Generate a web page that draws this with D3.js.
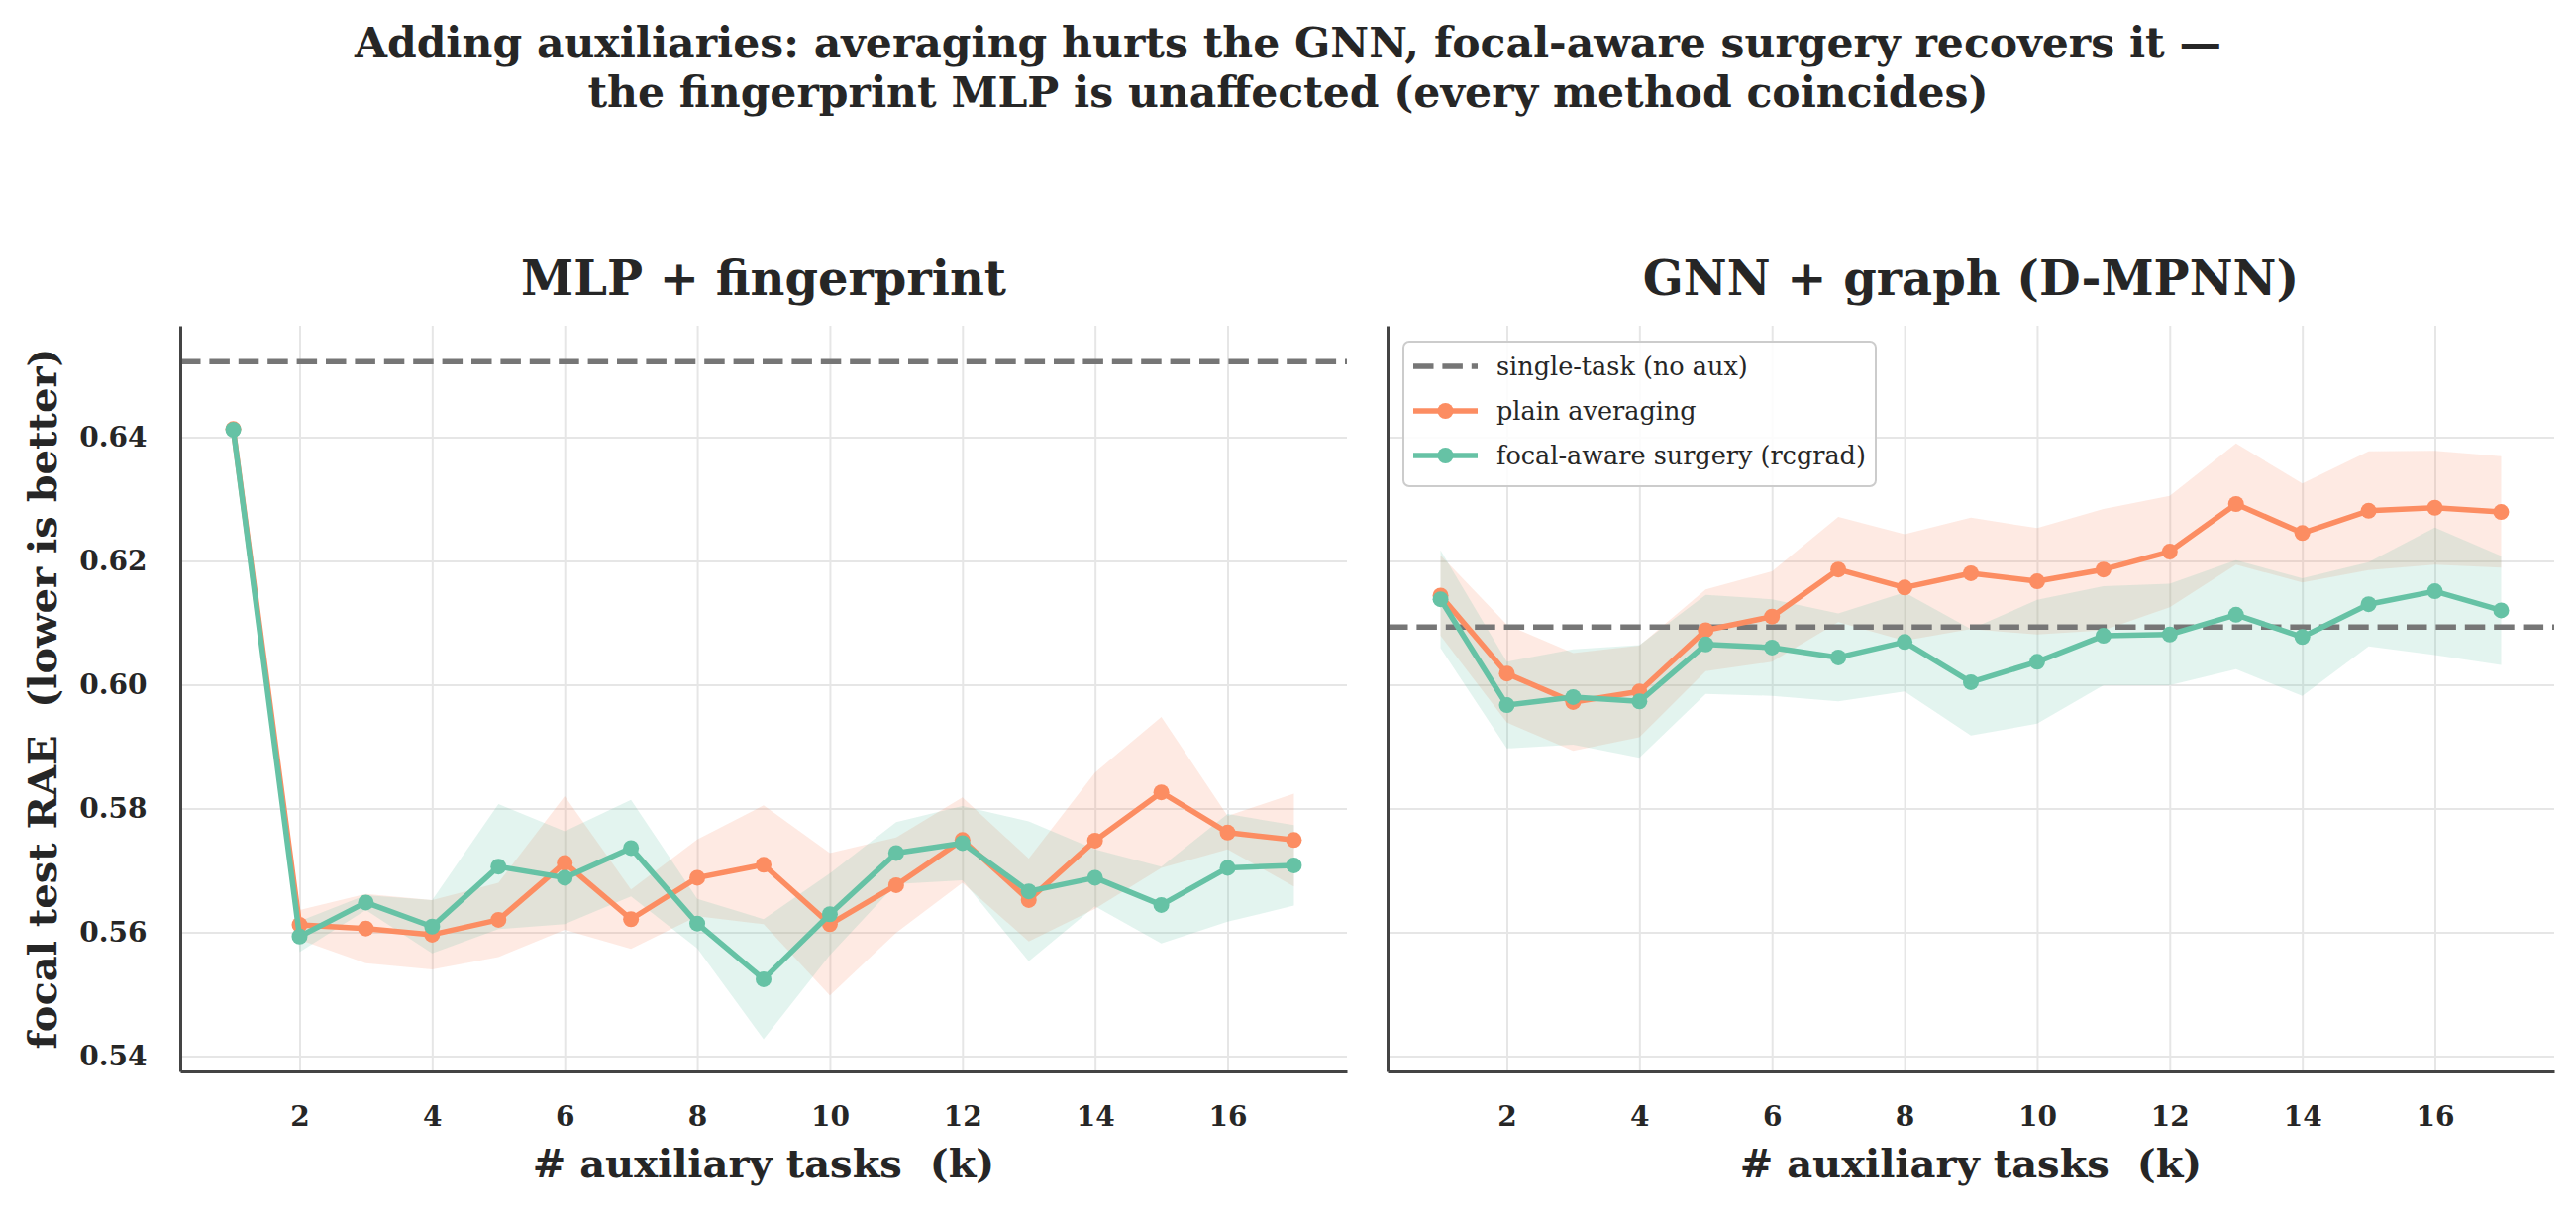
<!DOCTYPE html>
<html>
<head>
<meta charset="utf-8">
<script src="https://cdn.jsdelivr.net/npm/d3@7"></script>
<style>
  html, body { margin: 0; padding: 0; background: #ffffff; }
  text { font-family: 'DejaVu Serif', serif; fill: #262626; white-space: pre; }
</style>
</head>
<body>
<div id="chart"></div>
<script>
// k = number of auxiliary tasks
const kValues = [1, 2, 3, 4, 5, 6, 7, 8, 9, 10, 11, 12, 13, 14, 15, 16, 17];
const xTicks = [2, 4, 6, 8, 10, 12, 14, 16];
const yTicks = [0.54, 0.56, 0.58, 0.60, 0.62, 0.64];

// MLP + fingerprint
const mlpSingleTask = 0.6522;
const mlpPlain = [0.6413, 0.5612, 0.5606, 0.5596, 0.5620, 0.5712, 0.5621, 0.5688, 0.5709,
  0.5613, 0.5676, 0.5749, 0.5652, 0.5748, 0.5826, 0.5761, 0.5749];
const mlpPlainSd = [0.0009, 0.0024, 0.0056, 0.0056, 0.0060, 0.0108, 0.0048, 0.0062, 0.0096,
  0.0115, 0.0077, 0.0069, 0.0067, 0.0110, 0.0122, 0.0027, 0.0075];
const mlpSurgery = [0.6412, 0.5593, 0.5648, 0.5609, 0.5706, 0.5688, 0.5736, 0.5614, 0.5524,
  0.5629, 0.5728, 0.5744, 0.5666, 0.5688, 0.5644, 0.5704, 0.5708];
const mlpSurgerySd = [0.0006, 0.0025, 0.0012, 0.0043, 0.0101, 0.0075, 0.0078, 0.0040, 0.0097,
  0.0066, 0.0050, 0.0060, 0.0113, 0.0046, 0.0062, 0.0087, 0.0065];

// GNN + graph (D-MPNN)
const gnnSingleTask = 0.6093;
const gnnPlain = [0.6144, 0.6018, 0.5972, 0.5989, 0.6088, 0.6110, 0.6186, 0.6157, 0.6180,
  0.6167, 0.6186, 0.6215, 0.6292, 0.6245, 0.6281, 0.6286, 0.6279];
const gnnPlainSd = [0.0065, 0.0079, 0.0079, 0.0074, 0.0066, 0.0073, 0.0085, 0.0086, 0.0090,
  0.0086, 0.0098, 0.0090, 0.0098, 0.0080, 0.0096, 0.0092, 0.0090];
const gnnSurgery = [0.6138, 0.5967, 0.5980, 0.5973, 0.6065, 0.6060, 0.6044, 0.6069, 0.6004,
  0.6037, 0.6079, 0.6081, 0.6113, 0.6077, 0.6130, 0.6151, 0.6120];
const gnnSurgerySd = [0.0079, 0.0070, 0.0077, 0.0091, 0.0080, 0.0078, 0.0071, 0.0080, 0.0086,
  0.0100, 0.0080, 0.0082, 0.0088, 0.0095, 0.0068, 0.0103, 0.0088];

const seriesNames = ['single-task (no aux)', 'plain averaging', 'focal-aware surgery (rcgrad)'];
const colors = { plain: '#fc8d62', surgery: '#66c2a5', single: '#767676' };

const width = 2601, height = 1226;
const plotTop = 329, plotBottom = 1082;

const panels = [
  { title: 'MLP + fingerprint', left: 182, right: 1360, single: mlpSingleTask,
    plain: mlpPlain, plainSd: mlpPlainSd, surgery: mlpSurgery, surgerySd: mlpSurgerySd,
    yLabels: true, legend: false },
  { title: 'GNN + graph (D-MPNN)', left: 1401, right: 2579, single: gnnSingleTask,
    plain: gnnPlain, plainSd: gnnPlainSd, surgery: gnnSurgery, surgerySd: gnnSurgerySd,
    yLabels: false, legend: true }
];

const svg = d3.select('#chart')
  .append('svg')
  .attr('width', width)
  .attr('height', height)
  .style('display', 'block');

// suptitle
svg.append('text')
  .attr('x', width / 2).attr('y', 58)
  .attr('text-anchor', 'middle')
  .style('font-size', '42.5px').style('font-weight', 'bold')
  .text('Adding auxiliaries: averaging hurts the GNN, focal-aware surgery recovers it —');
svg.append('text')
  .attr('x', width / 2).attr('y', 108)
  .attr('text-anchor', 'middle')
  .style('font-size', '42.5px').style('font-weight', 'bold')
  .text('the fingerprint MLP is unaffected (every method coincides)');

const y = d3.scaleLinear().domain([0.5375, 0.658]).range([plotBottom, plotTop]);

panels.forEach((p) => {
  const x = d3.scaleLinear().domain([0.2, 17.8]).range([p.left, p.right]);
  const g = svg.append('g');

  // grid
  g.append('g')
    .attr('transform', `translate(0,${plotBottom})`)
    .call(d3.axisBottom(x).tickValues(xTicks).tickSize(-(plotBottom - plotTop)).tickFormat(''))
    .call((a) => a.select('.domain').remove())
    .selectAll('line').attr('stroke', '#e6e6e6').attr('stroke-width', 2);
  g.append('g')
    .attr('transform', `translate(${p.left},0)`)
    .call(d3.axisLeft(y).tickValues(yTicks).tickSize(-(p.right - p.left)).tickFormat(''))
    .call((a) => a.select('.domain').remove())
    .selectAll('line').attr('stroke', '#e6e6e6').attr('stroke-width', 2);

  // bands (mean ± sd)
  const band = (mean, sd) => d3.area()
    .x((d, i) => x(kValues[i]))
    .y0((d, i) => y(mean[i] - sd[i]))
    .y1((d, i) => y(mean[i] + sd[i]))(mean);
  g.append('path').attr('d', band(p.plain, p.plainSd))
    .attr('fill', colors.plain).attr('fill-opacity', 0.18);
  g.append('path').attr('d', band(p.surgery, p.surgerySd))
    .attr('fill', colors.surgery).attr('fill-opacity', 0.18);

  // single-task baseline
  g.append('line')
    .attr('x1', p.left).attr('x2', p.right)
    .attr('y1', y(p.single)).attr('y2', y(p.single))
    .attr('stroke', colors.single).attr('stroke-width', 5.5)
    .attr('stroke-dasharray', '20.5 8.9');

  // lines + markers
  const line = d3.line().x((d, i) => x(kValues[i])).y((d) => y(d));
  [['plain', p.plain], ['surgery', p.surgery]].forEach(([key, vals]) => {
    g.append('path').attr('d', line(vals))
      .attr('fill', 'none').attr('stroke', colors[key])
      .attr('stroke-width', 5.5).attr('stroke-linejoin', 'round');
    g.append('g').selectAll('circle')
      .data(vals)
      .join('circle')
      .attr('cx', (d, i) => x(kValues[i]))
      .attr('cy', (d) => y(d))
      .attr('r', 8)
      .attr('fill', colors[key]);
  });

  // spines + tick labels
  g.append('g')
    .attr('transform', `translate(0,${plotBottom})`)
    .call(d3.axisBottom(x).tickValues(xTicks).tickSize(0).tickSizeOuter(0).tickPadding(35))
    .call((a) => a.select('.domain').attr('stroke', '#444').attr('stroke-width', 3))
    .selectAll('text')
    .style('font-family', "'DejaVu Serif', serif")
    .style('font-size', '28px').style('font-weight', 'bold').attr('fill', '#262626');
  g.append('g')
    .attr('transform', `translate(${p.left},0)`)
    .call(d3.axisLeft(y).tickValues(yTicks).tickSize(0).tickSizeOuter(0).tickPadding(33.5)
      .tickFormat(p.yLabels ? d3.format('.2f') : ''))
    .call((a) => a.select('.domain').attr('stroke', '#444').attr('stroke-width', 3))
    .selectAll('text')
    .style('font-family', "'DejaVu Serif', serif")
    .style('font-size', '28px').style('font-weight', 'bold').attr('fill', '#262626');

  // titles
  g.append('text')
    .attr('x', (p.left + p.right) / 2).attr('y', 298)
    .attr('text-anchor', 'middle')
    .style('font-size', '48px').style('font-weight', 'bold')
    .text(p.title);
  g.append('text')
    .attr('x', (p.left + p.right) / 2).attr('y', 1189)
    .attr('text-anchor', 'middle')
    .style('font-size', '40px').style('font-weight', 'bold')
    .text('# auxiliary tasks  (k)');

  if (p.yLabels) {
    g.append('text')
      .attr('transform', `translate(57,${(plotTop + plotBottom) / 2}) rotate(-90)`)
      .attr('text-anchor', 'middle')
      .style('font-size', '40px').style('font-weight', 'bold')
      .text('focal test RAE  (lower is better)');
  }

  if (p.legend) {
    const lg = g.append('g').attr('transform', 'translate(1417,345)');
    lg.append('rect')
      .attr('width', 477).attr('height', 146).attr('rx', 6)
      .attr('fill', '#ffffff').attr('fill-opacity', 0.85)
      .attr('stroke', '#cccccc').attr('stroke-width', 2);
    const entries = [
      { name: seriesNames[0], color: colors.single, dash: '20.5 8.9', marker: false },
      { name: seriesNames[1], color: colors.plain, dash: null, marker: true },
      { name: seriesNames[2], color: colors.surgery, dash: null, marker: true }
    ];
    entries.forEach((e, i) => {
      const cy = 25 + i * 45;
      lg.append('line')
        .attr('x1', 10).attr('x2', 75).attr('y1', cy).attr('y2', cy)
        .attr('stroke', e.color).attr('stroke-width', 5.5)
        .attr('stroke-dasharray', e.dash);
      if (e.marker) {
        lg.append('circle').attr('cx', 42.5).attr('cy', cy).attr('r', 8).attr('fill', e.color);
      }
      lg.append('text')
        .attr('x', 94).attr('y', cy + 9)
        .style('font-size', '25.5px')
        .text(e.name);
    });
  }
});
</script>
</body>
</html>
